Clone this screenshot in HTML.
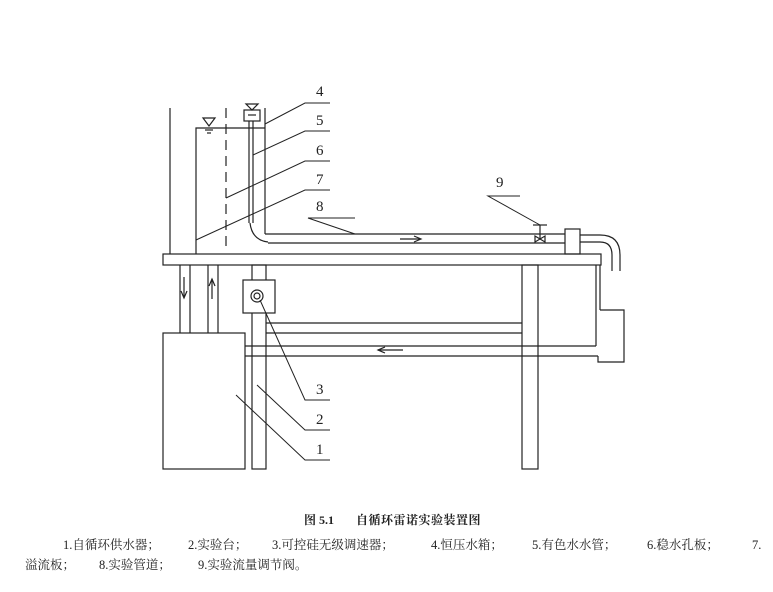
<!DOCTYPE html>
<html><head><meta charset="utf-8"><style>
body{margin:0;background:#fff;width:773px;height:592px;overflow:hidden;font-family:"Liberation Serif","Noto Serif CJK SC",serif}
svg{position:absolute;left:0;top:0}
.t{position:absolute;font-size:12.5px;line-height:16px;height:16px;color:#222;white-space:nowrap}
</style></head><body>
<svg width="773" height="592" stroke="#222" stroke-width="1.2" fill="none">
<line x1="170" y1="108" x2="170" y2="254"/>
<polyline points="196,254 196,128 265,128"/>
<line x1="265" y1="108" x2="265" y2="234"/>
<polygon points="203,118 215,118 209,126"/>
<line x1="205" y1="130" x2="213" y2="130"/><line x1="207" y1="133" x2="211" y2="133"/>
<line x1="226" y1="108" x2="226" y2="252" stroke-dasharray="10,6"/>
<rect x="244" y="110" width="16" height="11"/>
<line x1="248" y1="115" x2="256" y2="115"/>
<polygon points="246,104 258,104 252,110"/>
<line x1="249" y1="121" x2="249" y2="223"/>
<line x1="253" y1="121" x2="253" y2="223"/>
<path d="M250,223 Q252,240 268,242"/>
<line x1="265" y1="234" x2="565" y2="234"/>
<line x1="268" y1="243" x2="565" y2="243"/>
<line x1="400" y1="239" x2="420" y2="239"/><polyline points="414,236 421,239 414,242"/>
<line x1="580" y1="235" x2="600" y2="235"/><line x1="580" y1="242" x2="600" y2="242"/>
<path d="M600,235 Q620,235 620,255 L620,271"/>
<path d="M600,242 Q612,242 612,255 L612,271"/>
<rect x="565" y="229" width="15" height="25"/>
<polygon points="535,236 545,242 545,236 535,242"/>
<line x1="540" y1="225" x2="540" y2="239"/><line x1="533" y1="225" x2="547" y2="225"/>
<rect x="163" y="254" width="438" height="11"/>
<line x1="180" y1="265" x2="180" y2="333"/><line x1="190" y1="265" x2="190" y2="333"/>
<line x1="208" y1="265" x2="208" y2="333"/><line x1="218" y1="265" x2="218" y2="333"/>
<line x1="184" y1="277" x2="184" y2="297"/><polyline points="181,291 184,298 187,291"/>
<line x1="212" y1="279" x2="212" y2="299"/><polyline points="209,286 212,279 215,286"/>
<rect x="252" y="265" width="14" height="204"/>
<rect x="522" y="265" width="16" height="204"/>
<rect x="243" y="280" width="32" height="33" fill="#fff"/>
<circle cx="257" cy="296" r="6"/><circle cx="257" cy="296" r="3"/>
<rect x="163" y="333" width="82" height="136"/>
<line x1="266" y1="323" x2="522" y2="323"/><line x1="266" y1="333" x2="522" y2="333"/>
<line x1="245" y1="346" x2="596" y2="346"/><line x1="245" y1="356" x2="598" y2="356"/>
<line x1="378" y1="350" x2="403" y2="350"/><polyline points="385,347 378,350 385,353"/>
<line x1="596" y1="265" x2="596" y2="346"/>
<polyline points="600,310 624,310 624,362 598,362 598,356"/>
<line x1="600" y1="265" x2="600" y2="310"/>
<g stroke-width="1">
<polyline points="330,103 305,103 265,124"/>
<polyline points="330,131 305,131 253,155"/>
<polyline points="330,161 305,161 226,198"/>
<polyline points="330,190 305,190 196,240"/>
<polyline points="355,218 308,218 355,234"/>
<polyline points="520,196 488,196 540,225"/>
<polyline points="330,400 305,400 260,300"/>
<polyline points="330,430 305,430 257,385"/>
<polyline points="330,460 305,460 236,395"/>
</g>
</svg>
<div class="t" style="left:316px;top:84px;font-size:15px">4</div>
<div class="t" style="left:316px;top:113px;font-size:15px">5</div>
<div class="t" style="left:316px;top:143px;font-size:15px">6</div>
<div class="t" style="left:316px;top:172px;font-size:15px">7</div>
<div class="t" style="left:316px;top:199px;font-size:15px">8</div>
<div class="t" style="left:496px;top:175px;font-size:15px">9</div>
<div class="t" style="left:316px;top:382px;font-size:15px">3</div>
<div class="t" style="left:316px;top:412px;font-size:15px">2</div>
<div class="t" style="left:316px;top:442px;font-size:15px">1</div>
<div class="t" style="left:304px;top:512px;font-weight:bold;font-size:12px">图 5.1</div>
<div class="t" style="left:356px;top:512px;font-weight:bold;font-size:12px;letter-spacing:0.5px">自循环雷诺实验装置图</div>
<div class="t" style="left:63px;top:537px">1.自循环供水器；</div>
<div class="t" style="left:188px;top:537px">2.实验台；</div>
<div class="t" style="left:272px;top:537px">3.可控硅无级调速器；</div>
<div class="t" style="left:431px;top:537px">4.恒压水箱；</div>
<div class="t" style="left:532px;top:537px">5.有色水水管；</div>
<div class="t" style="left:647px;top:537px">6.稳水孔板；</div>
<div class="t" style="left:752px;top:537px">7.</div>
<div class="t" style="left:25px;top:557px">溢流板；</div>
<div class="t" style="left:99px;top:557px">8.实验管道；</div>
<div class="t" style="left:198px;top:557px">9.实验流量调节阀。</div>
</body></html>
